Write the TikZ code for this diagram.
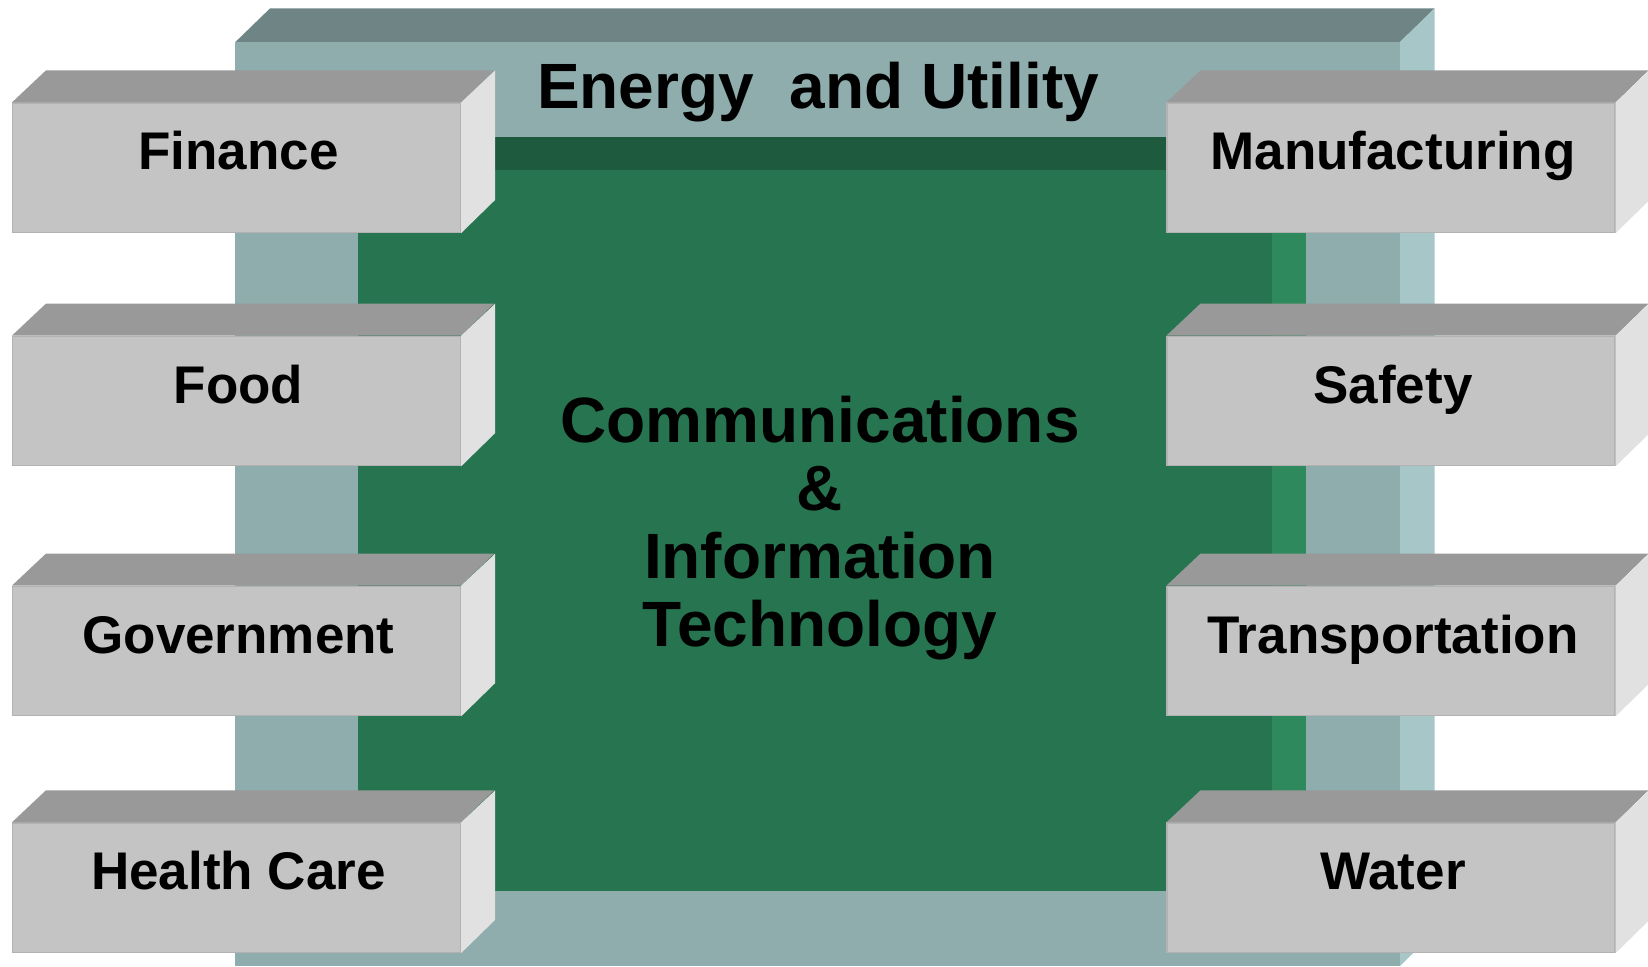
\documentclass[tikz,border=0pt]{standalone}
\usepackage{fontspec}
\setmainfont{Liberation Sans}
\definecolor{frfront}{HTML}{8FADAD}
\definecolor{frtop}{HTML}{6F8585}
\definecolor{frside}{HTML}{A7C6C8}
\definecolor{grmain}{HTML}{267550}
\definecolor{grdark}{HTML}{1E5A3E}
\definecolor{grlight}{HTML}{2E8A5C}
\definecolor{bxfront}{HTML}{C4C4C4}
\definecolor{bxtop}{HTML}{999999}
\definecolor{bxside}{HTML}{E1E1E1}
\definecolor{bxedge}{HTML}{B2B2B2}
\tikzset{
  bfront/.style={rectangle, fill=bxfront, draw=bxedge, line width=1.2pt,
    minimum width=448pt, minimum height=129.5pt, inner sep=0pt},
  blabel/.style={font=\fontsize{53}{60}\selectfont\bfseries, inner sep=0pt, text=black},
  bigtext/.style={font=\fontsize{64}{68}\selectfont\bfseries, inner sep=0pt, text=black, align=center}
}
\newcommand{\blk}[4]{%
  \node[bfront] (#1) at (#2,#3) {};
  \fill[bxtop] (#1.north west) -- ++(34,-32) -- ++(448,0) -- (#1.north east) -- cycle;
  \fill[bxside] (#1.north east) -- ++(34,-32) -- ++(0,129.5) -- (#1.south east) -- cycle;
  \node[blabel, anchor=base] (#1t) at ([xshift=2pt,yshift=-2pt]#1.center) {#4};
}
\begin{document}
\begin{tikzpicture}[x=1pt,y=-1pt]
\useasboundingbox (0,0) rectangle (1648,966);
% frame
\fill[frfront] (235.4,42) rectangle (1400,966);
\fill[frtop] (235.4,42) -- (270,8.4) -- (1434.6,8.4) -- (1400,42) -- cycle;
\fill[frside] (1400,42) -- (1434.6,8.4) -- (1434.6,932) -- (1400,966) -- cycle;
% inner green
\fill[grmain] (358.4,137) rectangle (1306.4,891);
\fill[grlight] (1271.5,137) rectangle (1306.4,891);
\fill[grdark] (358.4,137) rectangle (1306.4,170);
\node[bigtext, anchor=base] (title) at (818,108) {Energy\ \ and Utility};
\node[bigtext, anchor=center] (center) at (820,528) {Communications\\\&\\Information\\Technology};
% blocks
\blk{fin}{236.5}{167.8}{Finance}
\blk{food}{236.5}{401}{Food}
\blk{gov}{236.5}{651}{Government}
\blk{health}{236.5}{887.7}{Health Care}
\blk{manu}{1391}{167.8}{Manufacturing}
\blk{safety}{1391}{401}{Safety}
\blk{transp}{1391}{651}{Transportation}
\blk{water}{1391}{887.7}{Water}
\end{tikzpicture}
\end{document}
